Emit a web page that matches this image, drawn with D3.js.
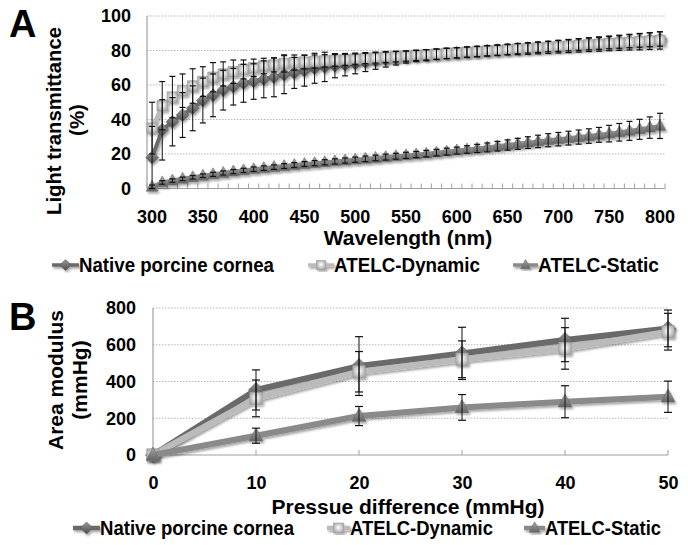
<!DOCTYPE html>
<html><head><meta charset="utf-8">
<script src="https://cdn.jsdelivr.net/npm/d3@7"></script>
<style>
body{margin:0;background:#fff}
svg{display:block}
text{font-family:"Liberation Sans",Arial,sans-serif;font-weight:bold;fill:#000}
</style>
</head><body>
<svg id="c" width="688" height="545"></svg>
<script>
// ---------- Panel A data ----------
const wavelengths = [300,310,320,330,340,350,360,370,380,390,400,410,420,430,440,450,460,470,480,490,500,
  510,520,530,540,550,560,570,580,590,600,610,620,630,640,650,660,670,680,690,700,
  710,720,730,740,750,760,770,780,790,800];
const wlTickLabels = [300,350,400,450,500,550,600,650,700,750,800];
const transTicks = [0,20,40,60,80,100];
const nativeA = [18,34,38.7,42.6,46.5,51,54,57,59,61,62,63.3,64.5,66,67,68.3,69.7,70.5,71.2,71.8,72.5,
  73.3,74.1,74.9,75.6,76.2,76.8,77.3,77.8,78.3,78.7,
  79.1,79.5,79.9,80.3,80.7,81.1,81.5,81.9,82.3,82.7,
  83.1,83.5,83.9,84.3,84.7,85.1,85.5,85.9,86.3,86.7];
const nativeAErr = [18,17.5,14,13,13,13,12.4,11.5,10.6,11,10.3,10.7,11.3,11,9,9,8.7,8.5,7,6.5,6,
  5.5,5,4.5,4,3.5,3.2,3.2,3,3,3,
  3,3,3,3,3,3,3,3,3,3.2,
  3.3,3.4,3.5,3.6,3.7,3.8,3.9,4,4.1,4.2];
const dynamicA = [35,48,53,56.7,59.4,62,64.5,66.4,67.7,69,70,71,71.6,72.5,73,73.3,73.6,74,74.3,74.6,75,
  75.4,75.7,76.1,76.4,76.8,77.2,77.5,77.9,78.3,78.6,
  79,79.3,79.7,80,80.4,80.8,81.1,81.5,81.8,82.2,
  82.5,82.9,83.3,83.6,84,84.3,84.7,85,85.4,85.8];
const dynamicAErr = [15,14,12,9.7,10,8.6,8.5,7,6.8,5.5,5,4.5,4,5,4.4,4,3.8,3.6,3.4,3.2,3,
  3,3,3,3,3,3,3,3,3,3,
  3,3,3,3,3,3.2,3.3,3.4,3.5,3.6,
  3.7,3.8,3.9,4,4.1,4.2,4.4,4.6,4.8,5];
const staticA = [1,3.5,4.6,5.6,6.5,7.4,8.2,9,9.8,10.5,11.2,11.8,12.4,13,13.6,14.2,14.7,15.2,15.7,16.2,16.7,
  17.2,17.7,18.2,18.7,19.2,19.7,20.2,20.8,21.4,22,
  22.6,23.2,23.8,24.5,25.2,25.9,26.6,27.3,28,28.6,
  29.2,29.8,30.4,31.1,31.8,32.6,33.4,34.3,35.3,36.3];
const staticAErr = [1,1,1,1,1,1,1.2,1.2,1.2,1.2,1.3,1.3,1.3,1.4,1.4,1.4,1.5,1.5,1.5,1.5,1.5,
  1.6,1.6,1.7,1.7,1.8,1.8,1.9,1.9,2,2,
  2.2,2.4,2.6,2.8,3,3.2,3.4,3.6,3.8,3.9,
  4,4.1,4.2,4.3,4.8,5.1,5.5,5.8,6.2,7.3];

// ---------- Panel B data ----------
const pressure = [0,10,20,30,40,50];
const modTicks = [0,200,400,600,800];
const nativeB = [0,354,484,553,626,689];
const nativeBErr = [0,109,160,142,118,100];
const dynamicB = [0,308,453,521,580,671];
const dynamicBErr = [0,100,110,100,113,100];
const staticB = [0,105,212,259,290,317];
const staticBErr = [0,41,52,70,87,85];

const seriesNames = ["Native porcine cornea","ATELC-Dynamic","ATELC-Static"];

// ---------- styles ----------
const svg = d3.select('#c');
const defs = svg.append('defs');
function linGrad(id, c1, c2){
  const g = defs.append('linearGradient').attr('id',id).attr('x1',0).attr('y1',0).attr('x2',0).attr('y2',1);
  g.append('stop').attr('offset','0%').attr('stop-color',c1);
  g.append('stop').attr('offset','100%').attr('stop-color',c2);
}
function radGrad(id, c1, c2){
  const g = defs.append('radialGradient').attr('id',id).attr('cx','50%').attr('cy','45%').attr('r','60%');
  g.append('stop').attr('offset','0%').attr('stop-color',c1);
  g.append('stop').attr('offset','100%').attr('stop-color',c2);
}
linGrad('gNative','#9a9a9a','#4a4a4a');
radGrad('gDyn','#ffffff','#a4a4a4');
linGrad('gStatic','#a8a8a8','#646464');
const sh = defs.append('filter').attr('id','shadow').attr('x','-10%').attr('y','-10%').attr('width','120%').attr('height','130%');
sh.append('feDropShadow').attr('dx',1.5).attr('dy',2).attr('stdDeviation',1.3).attr('flood-color','#000').attr('flood-opacity',0.35);

const styles = [
  {line:'#6a6a6a', fill:'url(#gNative)', stroke:'#555', shape:'diamond'},
  {line:'#bbbbbb', fill:'url(#gDyn)', stroke:'#999', shape:'square'},
  {line:'#8a8a8a', fill:'url(#gStatic)', stroke:'#6a6a6a', shape:'triangle'}
];
function markerPath(shape, s){
  const r = s/2;
  if(shape==='diamond'){ const d=r*1.2; return `M0,${-d}L${d},0L0,${d}L${-d},0Z`; }
  if(shape==='square'){ return `M${-r},${-r}H${r}V${r}H${-r}Z`; }
  const h = s*1.0; return `M0,${-h*0.62}L${r*1.1},${h*0.42}L${-r*1.1},${h*0.42}Z`;
}

function drawPanel(cfg){
  const g = svg.append('g');
  const {y, cx, cats, series, errs, left, right, top, bottom, lw, ms, cap} = cfg;
  g.selectAll('.grid').data(cfg.gridVals).enter().append('line')
    .attr('x1',left).attr('x2',right).attr('y1',d=>y(d)).attr('y2',d=>y(d))
    .attr('stroke','#b5b5b5').attr('stroke-width',1).attr('stroke-dasharray','1.5,1.5');
  g.append('line').attr('x1',left).attr('x2',left).attr('y1',top).attr('y2',bottom).attr('stroke','#a0a0a0').attr('stroke-width',1.2);
  g.append('line').attr('x1',left).attr('x2',right).attr('y1',bottom).attr('y2',bottom).attr('stroke','#a0a0a0').attr('stroke-width',1.2);
  g.selectAll('.tk').data(cfg.tickPos).enter().append('line')
    .attr('x1',d=>d).attr('x2',d=>d).attr('y1',bottom-5).attr('y2',bottom)
    .attr('stroke','#a0a0a0').attr('stroke-width',1);
  series.forEach((vals,si)=>{
    const st = styles[si];
    const pts = cats.map((c,i)=>[cx(c), y(vals[i])]);
    const sg = g.append('g').attr('filter','url(#shadow)');
    sg.append('path').attr('d', d3.line()(pts)).attr('fill','none')
      .attr('stroke',st.line).attr('stroke-width',lw).attr('stroke-linejoin','round');
    sg.selectAll('path.m').data(pts).enter().append('path').attr('class','m')
      .attr('transform',d=>`translate(${d[0]},${d[1]})`)
      .attr('d', markerPath(st.shape, ms)).attr('fill',st.fill).attr('stroke',st.stroke).attr('stroke-width',0.6);
  });
  series.forEach((vals,si)=>{
    const e = errs[si];
    cats.forEach((c,i)=>{
      if(!e[i]) return;
      const xx = cx(c);
      const y1 = y(Math.max(cfg.ymin, vals[i]-e[i])), y2 = y(vals[i]+e[i]);
      g.append('line').attr('x1',xx).attr('x2',xx).attr('y1',y1).attr('y2',y2).attr('stroke','#111').attr('stroke-width',1);
      [y1,y2].forEach(yy=>g.append('line').attr('x1',xx-cap).attr('x2',xx+cap).attr('y1',yy).attr('y2',yy).attr('stroke','#111').attr('stroke-width',1.2));
    });
  });
}
function styleAxisText(a){
  a.select('.domain').remove();
  a.selectAll('text').attr('font-size',18).attr('font-family','"Liberation Sans",Arial,sans-serif').attr('font-weight','bold').attr('fill','#000');
}

// ---------- Panel A ----------
const xA = d3.scaleBand().domain(wavelengths).range([147,665]).padding(0);
const cxA = d => xA(d) + xA.bandwidth()/2;
const yA = d3.scaleLinear().domain([0,100]).range([188.5,16]);
drawPanel({y:yA, cx:cxA, cats:wavelengths, series:[nativeA,dynamicA,staticA], errs:[nativeAErr,dynamicAErr,staticAErr],
  left:147, right:665, top:16, bottom:188.5, lw:4, ms:10.5, cap:3, ymin:0,
  gridVals:[20,40,60,80,100], tickPos:d3.range(wavelengths.length+1).map(i=>147+i*xA.bandwidth())});
const axA = svg.append('g').attr('transform','translate(0,188.5)')
  .call(d3.axisBottom(xA).tickValues(wlTickLabels).tickSize(0).tickPadding(21.7));
const ayA = svg.append('g').attr('transform','translate(147,0)')
  .call(d3.axisLeft(yA).tickValues(transTicks).tickSize(0).tickPadding(16));
styleAxisText(axA); styleAxisText(ayA);
svg.append('text').attr('x',408).attr('y',245).attr('text-anchor','middle').attr('font-size',21).text('Wavelength (nm)');
svg.append('text').attr('transform','translate(61,121) rotate(-90)').attr('text-anchor','middle').attr('font-size',20.5)
  .attr('textLength',188).attr('lengthAdjust','spacingAndGlyphs').text('Light transmittance');
svg.append('text').attr('transform','translate(84,120) rotate(-90)').attr('text-anchor','middle').attr('font-size',20.5).text('(%)');
svg.append('text').attr('x',9).attr('y',37).attr('font-size',38).text('A');

// ---------- Panel B ----------
const xB = d3.scaleLinear().domain([0,50]).range([153,668]);
const yB = d3.scaleLinear().domain([0,800]).range([455,308]);
drawPanel({y:yB, cx:xB, cats:pressure, series:[nativeB,dynamicB,staticB], errs:[nativeBErr,dynamicBErr,staticBErr],
  left:153, right:668, top:308, bottom:455, lw:6, ms:12.5, cap:4, ymin:-1e9,
  gridVals:[200,400,600,800], tickPos:pressure.map(p=>xB(p))});
const axB = svg.append('g').attr('transform','translate(0,455)')
  .call(d3.axisBottom(xB).tickValues(pressure).tickFormat(d3.format('d')).tickSize(0).tickPadding(21));
const ayB = svg.append('g').attr('transform','translate(153,0)')
  .call(d3.axisLeft(yB).tickValues(modTicks).tickSize(0).tickPadding(17));
styleAxisText(axB); styleAxisText(ayB);
svg.append('text').attr('x',408).attr('y',514).attr('text-anchor','middle').attr('font-size',21).text('Pressue difference (mmHg)');
svg.append('text').attr('transform','translate(63,380) rotate(-90)').attr('text-anchor','middle').attr('font-size',21).text('Area modulus');
svg.append('text').attr('transform','translate(87,380) rotate(-90)').attr('text-anchor','middle').attr('font-size',21).text('(mmHg)');
svg.append('text').attr('x',9).attr('y',330).attr('font-size',38).text('B');

// ---------- Legends ----------
function legend(baseline, items, ms, lw){
  items.forEach((it,i)=>{
    const st = styles[i];
    const cy = baseline - 7;
    const g = svg.append('g').attr('filter','url(#shadow)');
    g.append('line').attr('x1',it.x0).attr('x2',it.x1).attr('y1',cy).attr('y2',cy).attr('stroke',st.line).attr('stroke-width',lw);
    g.append('path').attr('transform',`translate(${(it.x0+it.x1)/2},${cy})`).attr('d',markerPath(st.shape,ms))
      .attr('fill',st.fill).attr('stroke',st.stroke).attr('stroke-width',0.6);
    svg.append('text').attr('x',it.x1).attr('y',baseline).attr('font-size',20)
      .attr('textLength',it.w).attr('lengthAdjust','spacingAndGlyphs').text(seriesNames[i]);
  });
}
legend(272, [{x0:52,x1:79,w:195},{x0:308,x1:334,w:146},{x0:513,x1:538,w:121}], 9, 3.5);
legend(535, [{x0:73,x1:100,w:194},{x0:327,x1:350,w:143},{x0:524,x1:545,w:116}], 10, 4.5);
</script>
</body></html>
